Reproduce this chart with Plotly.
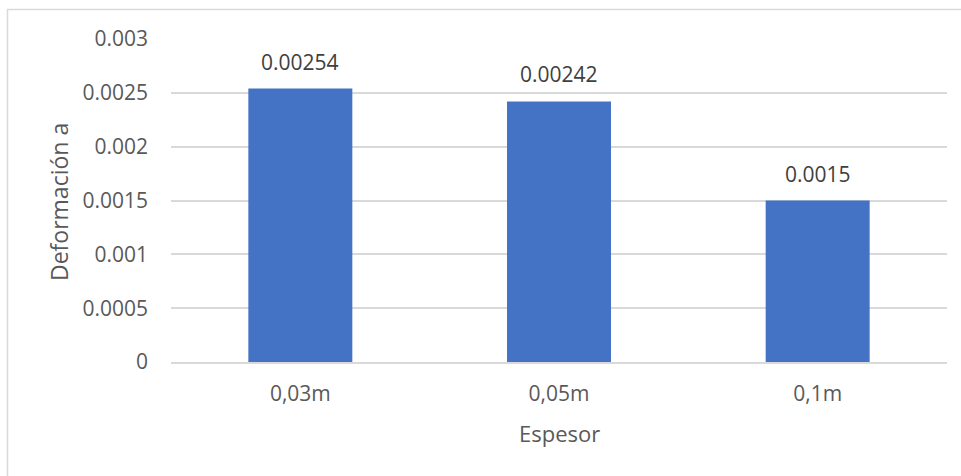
import plotly.graph_objects as go

# Datos
espesores = ["0,03m", "0,05m", "0,1m"]
deformacion = [0.00254, 0.00242, 0.0015]
etiquetas = ["0.00254", "0.00242", "0.0015"]
ticks_y = [0, 0.0005, 0.001, 0.0015, 0.002, 0.0025, 0.003]
ticks_y_texto = ["0", "0.0005", "0.001", "0.0015", "0.002", "0.0025", "0.003"]

W, H = 961, 476
ML, MR, MT, MB = 171, 14, 39, 114
PW, PH = W - ML - MR, H - MT - MB

FUENTE = "Open Sans"
GRIS = "#595959"


def px_x(p):
    return (p - ML) / PW


def px_y(p):
    return 1 - (p - MT) / PH


fig = go.Figure(
    go.Bar(
        x=espesores,
        y=deformacion,
        marker=dict(color="#4472C4", line=dict(width=0)),
        width=0.402,
        hoverinfo="x+y",
    )
)

# Etiquetas de valor sobre cada barra
etiquetas_valor = [
    dict(
        text=t, x=c, y=v, xref="x", yref="y",
        xanchor="center", yanchor="middle", yshift=27,
        showarrow=False,
        font=dict(family=FUENTE, size=21, color="#404040"),
    )
    for c, v, t in zip(espesores, deformacion, etiquetas)
]

fig.update_layout(
    width=W,
    height=H,
    margin=dict(l=ML, r=MR, t=MT, b=MB),
    paper_bgcolor="white",
    plot_bgcolor="white",
    showlegend=False,
    font=dict(family=FUENTE, size=21, color=GRIS),
    xaxis=dict(
        showgrid=False,
        showline=True,
        linecolor="#D9D9D9",
        linewidth=1.5,
        ticks="",
        ticklabelstandoff=12,
        tickfont=dict(family=FUENTE, size=21, color=GRIS),
    ),
    yaxis=dict(
        range=[0, 0.003],
        tickvals=ticks_y,
        ticktext=ticks_y_texto,
        showgrid=True,
        gridcolor="#D9D9D9",
        gridwidth=1.5,
        zeroline=False,
        showline=False,
        ticks="",
        ticklabelstandoff=22,
        tickfont=dict(family=FUENTE, size=21, color=GRIS),
    ),
    annotations=etiquetas_valor + [
        dict(
            text="Deformación a",
            xref="paper", yref="paper",
            x=px_x(59), y=px_y(202),
            xanchor="center", yanchor="middle",
            textangle=-90,
            showarrow=False,
            font=dict(family=FUENTE, size=23, color=GRIS),
        ),
        dict(
            text="Espesor",
            xref="paper", yref="paper",
            x=px_x(559), y=px_y(433),
            xanchor="center", yanchor="middle",
            showarrow=False,
            font=dict(family=FUENTE, size=22, color=GRIS),
        ),
    ],
    shapes=[
        dict(
            type="rect",
            xref="paper", yref="paper",
            x0=px_x(7.5), y0=px_y(490), x1=px_x(975), y1=px_y(9.5),
            line=dict(color="#D9D9D9", width=1.5),
            fillcolor="rgba(0,0,0,0)",
            layer="below",
        )
    ],
)

fig.write_html("out.html")
